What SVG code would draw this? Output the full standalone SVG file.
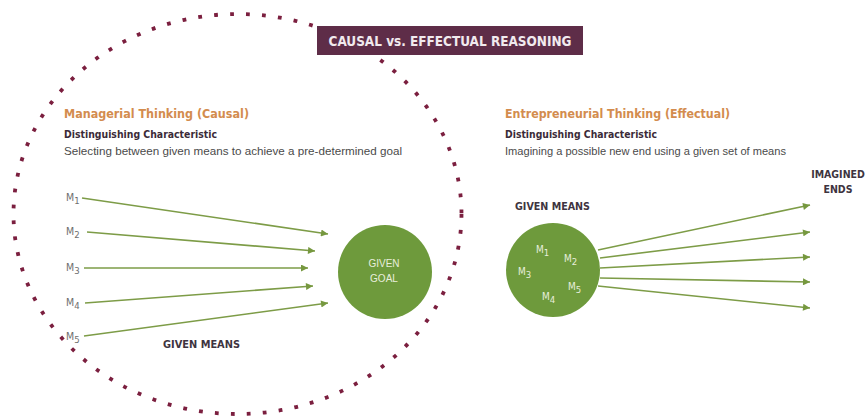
<svg xmlns="http://www.w3.org/2000/svg" width="867" height="416" viewBox="0 0 867 416">
<defs>
<marker id="ah" viewBox="0 0 10 10" refX="10" refY="5" markerWidth="10" markerHeight="7" markerUnits="userSpaceOnUse" orient="auto">
<path d="M0,0 L10,5 L0,10 z" fill="#76983f"/>
</marker>
<style>
.arr{stroke:#7d9c47;stroke-width:1.6;fill:none;marker-end:url(#ah)}
.head{font-family:"DejaVu Sans Condensed","DejaVu Sans",sans-serif;font-weight:bold;font-size:13px;fill:#d38c4e}
.sub{font-family:"DejaVu Sans Condensed","DejaVu Sans",sans-serif;font-weight:bold;font-size:10.5px;fill:#3b2b38}
.desc{font-family:"Liberation Sans",Arial,sans-serif;font-size:10.5px;fill:#4a4a4a}
.lab{font-family:"DejaVu Sans Condensed","DejaVu Sans",sans-serif;font-weight:bold;font-size:10.5px;fill:#3e3440}
.m{font-family:"DejaVu Sans Condensed","DejaVu Sans",sans-serif;font-size:10.5px;fill:#6e6e6e}
.mw{font-family:"DejaVu Sans Condensed","DejaVu Sans",sans-serif;font-size:10px;fill:#e8eedc}
.sb{font-size:9.5px}
</style>
</defs>
<rect width="867" height="416" fill="#ffffff"/>
<g id="boundary">
<ellipse cx="237.5" cy="214" rx="224" ry="200" fill="none" stroke="#7b1f3f" stroke-width="3.8" stroke-dasharray="3.8 12.2"/>
</g>
<g id="title">
<rect x="317" y="26" width="266" height="29" fill="#5e2d48"/>
<text x="450" y="46" text-anchor="middle" font-family="'DejaVu Sans Condensed','DejaVu Sans',sans-serif" font-weight="bold" font-size="13.5" fill="#f1eaee" textLength="243" lengthAdjust="spacingAndGlyphs">CAUSAL vs. EFFECTUAL REASONING</text>
</g>
<g id="causal-text">
<text class="head" x="64" y="118" textLength="185" lengthAdjust="spacingAndGlyphs">Managerial Thinking (Causal)</text>
<text class="sub" x="64" y="138" textLength="153" lengthAdjust="spacingAndGlyphs">Distinguishing Characteristic</text>
<text class="desc" x="64" y="155" textLength="338" lengthAdjust="spacingAndGlyphs">Selecting between given means to achieve a pre-determined goal</text>
</g>
<g id="effectual-text">
<text class="head" x="505" y="118" textLength="225" lengthAdjust="spacingAndGlyphs">Entrepreneurial Thinking (Effectual)</text>
<text class="sub" x="505" y="138" textLength="152" lengthAdjust="spacingAndGlyphs">Distinguishing Characteristic</text>
<text class="desc" x="505" y="155" textLength="281" lengthAdjust="spacingAndGlyphs">Imagining a possible new end using a given set of means</text>
</g>
<g id="causal-means">
<text class="m" x="66" y="201">M<tspan class="sb" dy="3">1</tspan></text>
<text class="m" x="66" y="235">M<tspan class="sb" dy="3">2</tspan></text>
<text class="m" x="66" y="271">M<tspan class="sb" dy="3">3</tspan></text>
<text class="m" x="66" y="306">M<tspan class="sb" dy="3">4</tspan></text>
<text class="m" x="66" y="340">M<tspan class="sb" dy="3">5</tspan></text>
<text class="lab" x="163" y="348" textLength="77" lengthAdjust="spacingAndGlyphs">GIVEN MEANS</text>
</g>
<g id="given-goal">
<circle cx="385" cy="272" r="47" fill="#6e9a3c"/>
<text x="384" y="267" text-anchor="middle" font-family="'Liberation Sans',Arial,sans-serif" font-size="10" fill="#e8eedc">GIVEN</text>
<text x="384" y="282" text-anchor="middle" font-family="'Liberation Sans',Arial,sans-serif" font-size="10" fill="#e8eedc">GOAL</text>
</g>
<g id="given-means">
<text class="lab" x="515" y="210" textLength="75" lengthAdjust="spacingAndGlyphs">GIVEN MEANS</text>
<circle cx="553" cy="270" r="47" fill="#6e9a3c"/>
<text class="mw" x="536" y="253">M<tspan class="sb" dy="3">1</tspan></text>
<text class="mw" x="564" y="262">M<tspan class="sb" dy="3">2</tspan></text>
<text class="mw" x="518" y="275">M<tspan class="sb" dy="3">3</tspan></text>
<text class="mw" x="568" y="290">M<tspan class="sb" dy="3">5</tspan></text>
<text class="mw" x="542" y="300">M<tspan class="sb" dy="3">4</tspan></text>
</g>
<g id="imagined-ends">
<text class="lab" x="838" y="178" text-anchor="middle">IMAGINED</text>
<text class="lab" x="838" y="193" text-anchor="middle">ENDS</text>
</g>
<g id="connectors">
<line class="arr" x1="82" y1="198" x2="328" y2="234"/>
<line class="arr" x1="87" y1="232" x2="315" y2="251"/>
<line class="arr" x1="84" y1="268" x2="308" y2="268"/>
<line class="arr" x1="85" y1="303" x2="313" y2="286"/>
<line class="arr" x1="84" y1="336" x2="328" y2="303"/>
<line class="arr" x1="598" y1="250" x2="810" y2="205"/>
<line class="arr" x1="600" y1="258" x2="810" y2="232"/>
<line class="arr" x1="600" y1="268" x2="810" y2="257"/>
<line class="arr" x1="600" y1="278" x2="810" y2="282"/>
<line class="arr" x1="598" y1="286" x2="810" y2="308"/>
</g>
</svg>
